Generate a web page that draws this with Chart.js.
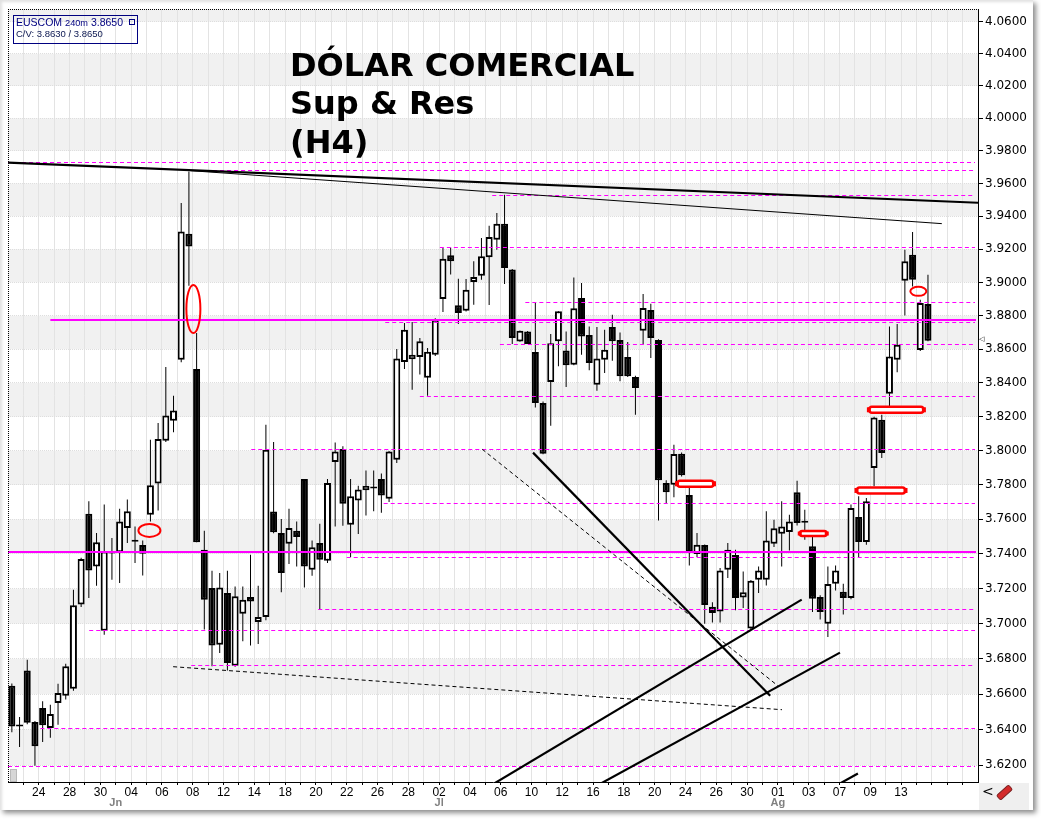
<!DOCTYPE html>
<html>
<head>
<meta charset="utf-8">
<title>DÓLAR COMERCIAL Sup &amp; Res (H4)</title>
<script src="https://cdn.jsdelivr.net/npm/chart.js@4.4.1/dist/chart.umd.min.js"></script>
<style>
  html, body { margin:0; padding:0; background:#ffffff; }
  #wrap { position:relative; width:1041px; height:819px; overflow:hidden; background:#ffffff; }
  #panel { position:absolute; left:0; top:0; width:1033px; height:810px; background:#ffffff;
           box-shadow: inset 2px 2px 3px rgba(0,0,0,0.12), 3px 3px 5px rgba(0,0,0,0.45); }
  #corner { position:absolute; left:979px; top:783px; width:50px; height:27px; background:#efefef; }
  #chart { position:absolute; left:0; top:0; }
  #title { position:absolute; left:290px; top:45.7px; font-family:'DejaVu Sans', sans-serif; font-weight:bold;
           font-size:32px; line-height:38.5px; color:#000; white-space:nowrap; }
  #lgbox { position:absolute; left:13px; top:15px; width:123px; height:27px; border:1px solid #000080; }
  #lg1 { position:absolute; left:16px; top:15px; line-height:14px; font-family:'Liberation Sans', Arial, sans-serif;
         font-size:10.5px; color:#000080; white-space:nowrap; }
  #lg1 .small { font-size:9.2px; }
  #lgsq { position:absolute; left:129px; top:19px; width:4px; height:4px; border:1px solid #000080; }
  #lg2 { position:absolute; left:16px; top:28px; line-height:12.5px; font-family:'Liberation Sans', Arial, sans-serif;
         font-size:9.5px; color:#0a1650; white-space:nowrap; }
  #cur { position:absolute; left:979px; top:334px; font-family:'DejaVu Sans', sans-serif; font-size:7px; line-height:10px; color:#000; }
  #lt { position:absolute; left:982px; top:782px; font-family:'DejaVu Sans', sans-serif; font-size:14px; color:#000; line-height:18px; }
  #icon { position:absolute; left:996px; top:789px; width:15px; height:5px; background:#d42a2a; border:1px solid #7a2020;
          border-radius:2px; transform:rotate(-42deg); }
  #lbox { position:absolute; left:10px; top:769px; width:5px; height:11px; background:#d6d6d6; border:1px solid #b8b8b8; }
</style>
</head>
<body>
<div id="wrap">
  <div id="panel"></div>
  <div id="corner"></div>
  <canvas id="chart" width="1041" height="819"></canvas>
  <div id="title">DÓLAR COMERCIAL<br>Sup &amp; Res<br>(H4)</div>
  <div id="lgbox"></div>
  <div id="lg1">EUSCOM <span class="small">240m</span> 3.8650</div>
  <div id="lgsq"></div>
  <div id="lg2">C/V: 3.8630 / 3.8650</div>
  <div id="cur">◁</div>
  <div id="lt">&lt;</div>
  <div id="icon"></div>
  <div id="lbox"></div>
</div>
<script>
// ---------------- data ----------------
const dayLabels = ['24','28','30','04','06','08','12','14','18','20','22','26','28','02','04','06',
                   '10','12','16','18','20','24','26','30','01','03','07','09','13'];
const monthLabels = ['Jn','Jl','Ag'];
const monthPositions = [13.5, 55.5, 99.5];
const priceTicks = [3.62,3.64,3.66,3.68,3.70,3.72,3.74,3.76,3.78,3.80,3.82,3.84,3.86,3.88,3.90,
                    3.92,3.94,3.96,3.98,4.00,4.02,4.04,4.06];

const opens = [3.6647,3.6420,3.6733,3.6443,3.6522,3.6409,3.6550,3.6591,3.6630,3.7109,
3.7633,3.7328,3.6960,3.7414,3.7409,3.7550,3.7472,3.7452,3.7627,3.7808,
3.8059,3.8177,3.8538,3.9294,3.8483,3.7424,3.7204,3.6880,3.7175,3.6761,
3.7057,3.7153,3.7010,3.7038,3.7645,3.7521,3.7459,3.7534,3.7835,3.7309,
3.7463,3.7361,3.7934,3.8011,3.7569,3.7709,3.7769,3.7781,3.7835,3.7720,
3.7948,3.8524,3.8541,3.8553,3.8431,3.8567,3.8900,3.9164,3.8862,3.8830,
3.9002,3.9040,3.9151,3.9258,3.9355,3.9077,3.8646,3.8706,3.8583,3.8281,
3.8405,3.8647,3.8593,3.8508,3.8906,3.8685,3.8389,3.8538,3.8733,3.8655,
3.8554,3.8435,3.8710,3.8834,3.8655,3.7812,3.7802,3.7983,3.7742,3.7399,
3.7452,3.7096,3.7070,3.7309,3.7394,3.7150,3.6972,3.7252,3.7252,3.7459,
3.7517,3.7527,3.7757,3.7583,3.7444,3.7153,3.7000,3.7229,3.7183,3.7147,
3.7614,3.7469,3.7899,3.8182,3.8336,3.8538,3.9010,3.9167,3.8596,3.8870];
const highs = [3.6660,3.6471,3.6795,3.6448,3.6559,3.6540,3.6659,3.6772,3.7194,3.7378,
3.7705,3.7521,3.7686,3.7492,3.7661,3.7715,3.7559,3.7477,3.8065,3.8163,
3.8494,3.8324,3.9480,3.9673,3.8697,3.7534,3.7303,3.7290,3.7303,3.7213,
3.7213,3.7395,3.7217,3.8153,3.8052,3.7602,3.7661,3.7587,3.7835,3.7477,
3.7575,3.7835,3.8049,3.8026,3.7835,3.7796,3.7884,3.7884,3.7867,3.7998,
3.8601,3.8756,3.8762,3.8667,3.8607,3.8785,3.9207,3.9211,3.9022,3.9020,
3.9127,3.9268,3.9342,3.9420,3.9531,3.9080,3.8712,3.8708,3.8882,3.8290,
3.8691,3.8826,3.8706,3.9030,3.8996,3.8736,3.8733,3.8716,3.8806,3.8700,
3.8643,3.8443,3.8930,3.8872,3.8660,3.7827,3.8036,3.7990,3.7783,3.7521,
3.7455,3.7122,3.7319,3.7463,3.7424,3.7299,3.7250,3.7328,3.7647,3.7598,
3.7705,3.7627,3.7825,3.7656,3.7511,3.7162,3.7328,3.7334,3.7229,3.7686,
3.7734,3.7724,3.8200,3.8212,3.8736,3.8750,3.9197,3.9304,3.8896,3.9046];
const lows = [3.6385,3.6303,3.6430,3.6198,3.6331,3.6354,3.6428,3.6569,3.6619,3.7095,
3.7147,3.7217,3.6937,3.7252,3.7233,3.7463,3.7348,3.7276,3.7588,3.7652,
3.8052,3.8108,3.8522,3.8980,3.7467,3.6966,3.6757,3.6833,3.6734,3.6755,
3.6899,3.6876,3.6884,3.7019,3.7520,3.7179,3.7342,3.7328,3.7207,3.7275,
3.7080,3.7348,3.7559,3.7563,3.7382,3.7515,3.7623,3.7647,3.7638,3.7701,
3.7929,3.8483,3.8360,3.8449,3.8324,3.8560,3.8822,3.9048,3.8750,3.8825,
3.8866,3.9016,3.8864,3.9197,3.8990,3.8631,3.8644,3.8631,3.8255,3.7980,
3.8147,3.8498,3.8376,3.8504,3.8567,3.8475,3.8354,3.8459,3.8532,3.8409,
3.8435,3.8212,3.8631,3.8548,3.7594,3.7690,3.7728,3.7850,3.7334,3.7382,
3.7000,3.7007,3.7006,3.7261,3.7076,3.7090,3.6968,3.7175,3.7219,3.7440,
3.7328,3.7420,3.7565,3.7482,3.7067,3.7023,3.6924,3.7190,3.7052,3.7140,
3.7380,3.7453,3.7792,3.7958,3.8261,3.8463,3.8802,3.8976,3.8590,3.8647];
const closes = [3.6418,3.6418,3.6438,3.6306,3.6424,3.6488,3.6606,3.6757,3.7105,3.7371,
3.7305,3.7467,3.7414,3.7403,3.7588,3.7647,3.7470,3.7401,3.7798,3.8069,
3.8208,3.8237,3.9308,3.9217,3.7467,3.7137,3.6876,3.7207,3.6776,3.7156,
3.7137,3.7127,3.7038,3.8006,3.7525,3.7290,3.7550,3.7498,3.7328,3.7438,
3.7367,3.7812,3.7996,3.7690,3.7734,3.7773,3.7796,3.7779,3.7738,3.7995,
3.8544,3.8716,3.8567,3.8647,3.8585,3.8776,3.9143,3.9128,3.8816,3.8956,
3.9033,3.9157,3.9274,3.9355,3.9087,3.8667,3.8710,3.8631,3.8281,3.7983,
3.8635,3.8826,3.8504,3.8844,3.8676,3.8518,3.8544,3.8597,3.8647,3.8439,
3.8439,3.8370,3.8846,3.8667,3.7827,3.7757,3.7981,3.7856,3.7411,3.7453,
3.7107,3.7061,3.7305,3.7424,3.7147,3.7179,3.7246,3.7305,3.7478,3.7548,
3.7559,3.7588,3.7579,3.7581,3.7143,3.7067,3.7227,3.7305,3.7147,3.7666,
3.7469,3.7705,3.8196,3.7987,3.8557,3.8627,3.9127,3.9016,3.8876,3.8650];

// horizontal support / resistance levels (price) and the candle index where each starts
const solidLevels = [3.7413, 3.8776];
const solidStarts = [-0.5, 5.0];
const dashedLevels = [3.9731,3.9682,3.9531,3.9213,3.8882,3.8762,3.8631,3.8322,3.8011,3.7695,
                      3.7384,3.7084,3.6964,3.6765,3.6409,3.6198];
const dashedStarts = [-0.5,22.5,62.4,55.6,66.7,48.5,63.4,53.0,31.1,48.3,43.5,39.8,10.05,23.3,3.7,-0.5];

// trend lines: [index1, price1, index2, price2]
const trendLines = [
  [-0.48, 3.9727, 125.5, 3.9482],
  [23.2, 3.9678, 120.8, 3.9355],
  [67.7, 3.7989, 98.5, 3.6591],
  [61.1, 3.8009, 99.5, 3.6647],
  [20.95, 3.6755, 100.04, 3.6512],
  [61.3, 3.6064, 102.6, 3.7137],
  [75.03, 3.6064, 107.57, 3.6835],
  [106.1, 3.6064, 109.9, 3.6154]
];
// red marks: [index, price]
const capsuleMarks = [[88.8, 3.7807], [104.1, 3.7518], [114.9, 3.8241], [112.9, 3.7768]];
const ellipseMarks = [[17.87, 3.7536], [23.58, 3.8840], [117.75, 3.8946]];

// ---------------- styles ----------------
const trendStyles = [
  {w:2.2, dash:[]}, {w:1, dash:[]}, {w:2.2, dash:[]}, {w:1, dash:[4,3]},
  {w:1, dash:[4,3]}, {w:2.2, dash:[]}, {w:2.2, dash:[]}, {w:2.2, dash:[]}
];
const capsuleSizes = [[37,6],[27,5],[55,6],[49,6]];
const ellipseSizes = [[22,13],[14,48],[16,9]];

// ---------------- build ----------------
const idx = opens.map((_, i) => i);
const wickData = idx.map(i => ({x: i, y: [lows[i], highs[i]]}));
const bodyData = idx.map(i => ({x: i, y: [opens[i], closes[i]]}));
const bodyColors = idx.map(i => closes[i] >= opens[i] ? '#ffffff' : '#000000');
const gridPositions = [];
for (let v = 1.5; v < 125; v += 2) gridPositions.push(v);

const overlay = {
  id: 'overlay',
  beforeDraw(chart) {
    const {ctx, chartArea: a, scales: {y}} = chart;
    ctx.save();
    ctx.fillStyle = '#f1f1f1';
    const desc = priceTicks.slice().sort((p, q) => q - p);
    for (let k = -1; k < desc.length; k++) {
      if (Math.abs(k) % 2 !== 1) continue;
      const upper = k < 0 ? desc[0] + 0.02 : desc[k];
      const lower = upper - 0.02;
      const t = Math.max(a.top, y.getPixelForValue(upper));
      const b = Math.min(a.bottom, y.getPixelForValue(lower));
      if (b > t) ctx.fillRect(a.left, t, a.right - a.left, b - t);
    }
    ctx.restore();
  },
  afterDatasetsDraw(chart) {
    const {ctx, chartArea: a, scales: {x, y}} = chart;
    ctx.save();
    ctx.beginPath();
    ctx.rect(a.left, a.top, a.right - a.left, a.bottom - a.top);
    ctx.clip();
    // dashed magenta levels
    ctx.strokeStyle = '#ff00ff';
    ctx.lineWidth = 1;
    ctx.setLineDash([4, 3]);
    dashedLevels.forEach((p, k) => {
      const yy = Math.round(y.getPixelForValue(p)) + 0.5;
      ctx.beginPath();
      ctx.moveTo(x.getPixelForValue(dashedStarts[k]), yy);
      ctx.lineTo(a.right - 3, yy);
      ctx.stroke();
    });
    // solid magenta levels
    ctx.setLineDash([]);
    ctx.lineWidth = 2.2;
    solidLevels.forEach((p, k) => {
      const yy = Math.round(y.getPixelForValue(p));
      ctx.beginPath();
      ctx.moveTo(x.getPixelForValue(solidStarts[k]), yy);
      ctx.lineTo(a.right - 2, yy);
      ctx.stroke();
    });
    // trend lines
    ctx.strokeStyle = '#000000';
    trendLines.forEach((t, k) => {
      const st = trendStyles[k];
      ctx.lineWidth = st.w;
      ctx.setLineDash(st.dash);
      ctx.beginPath();
      ctx.moveTo(x.getPixelForValue(t[0]), y.getPixelForValue(t[1]));
      ctx.lineTo(x.getPixelForValue(t[2]), y.getPixelForValue(t[3]));
      ctx.stroke();
    });
    ctx.setLineDash([]);
    // red capsules
    ctx.strokeStyle = '#ff0000';
    capsuleMarks.forEach((m, k) => {
      const [w, h] = capsuleSizes[k];
      const cx = x.getPixelForValue(m[0]), cy = y.getPixelForValue(m[1]);
      ctx.lineWidth = 2.4;
      ctx.fillStyle = '#ffffff';
      ctx.beginPath();
      if (ctx.roundRect) ctx.roundRect(cx - w / 2, cy - h / 2, w, h, h / 2);
      else ctx.rect(cx - w / 2, cy - h / 2, w, h);
      ctx.fill();
      ctx.stroke();
      ctx.fillStyle = '#ff0000';
      ctx.fillRect(cx - w / 2 - 2, cy - h / 2 + 0.5, 4, h - 1);
      ctx.fillRect(cx + w / 2 - 2, cy - h / 2 + 0.5, 4, h - 1);
    });
    // red ellipses
    ctx.lineWidth = 2;
    ellipseMarks.forEach((m, k) => {
      const [w, h] = ellipseSizes[k];
      ctx.beginPath();
      ctx.ellipse(x.getPixelForValue(m[0]), y.getPixelForValue(m[1]), w / 2, h / 2, 0, 0, Math.PI * 2);
      ctx.stroke();
    });
    ctx.restore();
    // dotted frame top & left
    ctx.save();
    ctx.strokeStyle = '#000';
    ctx.lineWidth = 1;
    ctx.setLineDash([1, 1]);
    ctx.beginPath();
    ctx.moveTo(a.left, Math.round(a.top) + 0.5);
    ctx.lineTo(a.right, Math.round(a.top) + 0.5);
    ctx.moveTo(Math.round(a.left) + 0.5, a.top);
    ctx.lineTo(Math.round(a.left) + 0.5, a.bottom);
    ctx.stroke();
    ctx.restore();
  }
};

new Chart(document.getElementById('chart'), {
  type: 'bar',
  data: {
    datasets: [
      { label: 'wick', data: wickData, xAxisID: 'x', yAxisID: 'y', backgroundColor: '#000000',
        borderWidth: 0, barThickness: 1, grouped: false, order: 2, inflateAmount: 0 },
      { label: 'body', data: bodyData, xAxisID: 'x', yAxisID: 'y', backgroundColor: bodyColors,
        borderColor: '#000000', borderWidth: 2, borderSkipped: false, barThickness: 7,
        minBarLength: 2, grouped: false, order: 1, inflateAmount: 0 }
    ]
  },
  options: {
    responsive: false,
    animation: false,
    devicePixelRatio: 1,
    events: [],
    layout: { padding: { left: 8, top: 9, right: 0, bottom: 0 } },
    plugins: { legend: { display: false }, tooltip: { enabled: false } },
    scales: {
      x: {
        type: 'linear', position: 'bottom', weight: 0, min: -0.5, max: 125.5, offset: false,
        afterBuildTicks: s => { s.ticks = gridPositions.map(v => ({value: v})); },
        afterFit: s => { s.height = 14; },
        ticks: {
          autoSkip: false, maxRotation: 0, minRotation: 0, padding: 0, color: '#000000',
          font: { family: "'Liberation Sans Narrow', 'Liberation Sans', Arial", size: 12, lineHeight: 1.2 },
          callback: (v, j) => (j % 2 === 1 ? dayLabels[(j - 1) / 2] || '' : '')
        },
        grid: { color: '#e3e3e3', tickColor: '#000000', tickLength: 3, offset: false },
        border: { color: '#000000', width: 1 }
      },
      x2: {
        type: 'linear', position: 'bottom', weight: 1, min: -0.5, max: 125.5, offset: false,
        afterBuildTicks: s => { s.ticks = monthPositions.map(v => ({value: v})); },
        afterFit: s => { s.height = 23; },
        ticks: {
          autoSkip: false, maxRotation: 0, minRotation: 0, padding: 0, color: '#808080',
          font: { family: "'Liberation Sans', Arial", size: 11, weight: 'bold', lineHeight: 1.2 },
          callback: (v, j) => monthLabels[j]
        },
        grid: { display: false, drawTicks: false, tickLength: 0 },
        border: { display: false }
      },
      y: {
        type: 'logarithmic', position: 'right', min: 3.6107, max: 4.068, bounds: 'data',
        afterBuildTicks: s => { s.ticks = priceTicks.map(v => ({value: v})); },
        afterFit: s => { s.width = 63; },
        ticks: {
          autoSkip: false, padding: 2, color: '#000000',
          font: { family: "'DejaVu Sans'", size: 12, lineHeight: 1 },
          callback: v => Number(v).toFixed(4)
        },
        grid: { color: '#dedede', tickColor: '#000000', tickLength: 5 },
        border: { color: '#000000', width: 1, dash: [1, 1] }
      }
    }
  },
  plugins: [overlay]
});
</script>
</body>
</html>
